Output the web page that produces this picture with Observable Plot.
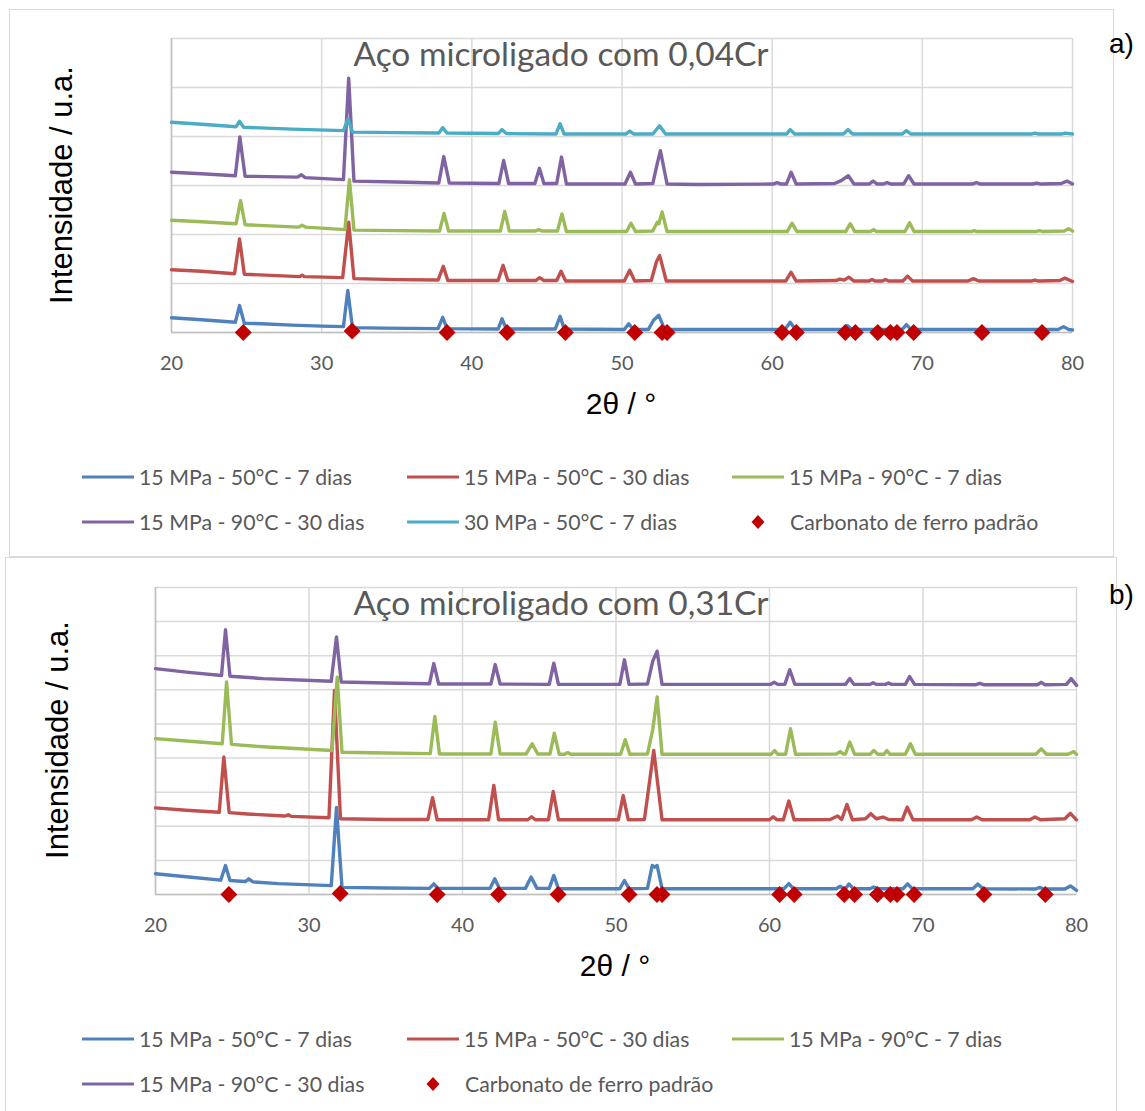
<!DOCTYPE html>
<html>
<head>
<meta charset="utf-8">
<script src="https://cdn.jsdelivr.net/npm/d3@7"></script>
<script src="https://cdn.jsdelivr.net/npm/@observablehq/plot@0.6"></script>
<style>
  html, body { margin: 0; padding: 0; background: #fff; }
  #page { position: relative; width: 1145px; height: 1111px; overflow: hidden; background: #fff; }
  .frame { position: absolute; border: 1px solid #D9D9D9; box-sizing: border-box; }
  .abs { position: absolute; white-space: nowrap; }
  .title { font-family: Lato, sans-serif; font-size: 33.5px; color: #595959; transform: translate(-50%, -50%); }
  .ylab { font-family: "Liberation Sans", Arial, sans-serif; font-size: 31px; color: #000; transform: translate(-50%, -50%) rotate(-90deg); }
  .xlab { font-family: "Liberation Sans", Arial, sans-serif; font-size: 30px; color: #000; transform: translate(-50%, -50%); }
  .tag { font-family: "Liberation Sans", Arial, sans-serif; font-size: 28px; color: #000; transform: translate(0, -50%); }
  .leg { font-family: Lato, sans-serif; font-size: 21.3px; color: #595959; transform: translate(0, -50%); }
  .legline { position: absolute; height: 3px; width: 52px; transform: translate(0, -50%); }
  .plotwrap { position: absolute; }
</style>
</head>
<body>
<div id="page"></div>
<script>
// ---------------- DATA ----------------
const xTicks = [20, 30, 40, 50, 60, 70, 80];
const gridA = [0, 1, 2, 3, 4, 5, 6];
const gridB = [0, 1, 2, 3, 4, 5, 6, 7, 8, 9];

const seriesNamesA = ["15 MPa - 50°C - 7 dias", "15 MPa - 50°C - 30 dias", "15 MPa - 90°C - 7 dias", "15 MPa - 90°C - 30 dias", "30 MPa - 50°C - 7 dias"];
const seriesNamesB = ["15 MPa - 50°C - 7 dias", "15 MPa - 50°C - 30 dias", "15 MPa - 90°C - 7 dias", "15 MPa - 90°C - 30 dias"];
const standardName = "Carbonato de ferro padrão";
const titleA = "Aço microligado com 0,04Cr";
const titleB = "Aço microligado com 0,31Cr";

// Carbonato de ferro padrão (2θ positions)
const standardTheta = [24.78, 32.03, 38.35, 42.35, 46.23, 50.85, 52.67, 53.0, 60.66, 61.61, 64.87, 65.54, 67.03, 67.87, 68.31, 69.42, 73.97, 77.97];
const standardI = [0, 0.03, 0, 0, 0, 0, 0, 0, 0, 0, 0, 0, 0, 0, 0, 0, 0, 0];

// Panel a) 0,04Cr  — [2θ, intensity (offset, a.u.)]
const a_15_50_7 = [[20,0.30],[22,0.26],[24.25,0.21],[24.53,0.55],[24.85,0.19],[26,0.18],[28,0.15],[30,0.13],[31.45,0.12],[31.74,0.86],[32.05,0.10],[34,0.09],[37.75,0.08],[38.06,0.31],[38.35,0.08],[41.75,0.07],[42.01,0.28],[42.3,0.07],[45.55,0.07],[45.88,0.33],[46.15,0.07],[50.15,0.06],[50.45,0.18],[50.75,0.06],[51.75,0.06],[52.1,0.25],[52.45,0.35],[52.85,0.06],[55,0.06],[60.85,0.06],[61.2,0.21],[61.55,0.06],[64.65,0.06],[65.0,0.14],[65.35,0.06],[68.65,0.06],[68.94,0.16],[69.25,0.06],[79.05,0.06],[79.4,0.12],[79.75,0.06],[80,0.05]];
const a_15_50_30 = [[20,1.28],[22,1.25],[24.2,1.20],[24.53,1.91],[24.85,1.19],[27,1.16],[28.55,1.14],[28.7,1.17],[28.85,1.14],[31.4,1.12],[31.8,2.25],[32.15,1.10],[35,1.08],[37.75,1.07],[38.1,1.35],[38.4,1.06],[41.75,1.06],[42.08,1.37],[42.4,1.06],[44.25,1.06],[44.52,1.12],[44.8,1.06],[45.65,1.06],[45.94,1.25],[46.25,1.05],[50.15,1.05],[50.51,1.27],[50.85,1.05],[51.95,1.06],[52.3,1.45],[52.51,1.57],[52.95,1.05],[55,1.05],[60.9,1.05],[61.26,1.23],[61.6,1.05],[64.25,1.06],[64.5,1.09],[64.8,1.07],[65.1,1.13],[65.45,1.05],[66.45,1.05],[66.65,1.08],[66.85,1.05],[67.35,1.05],[67.55,1.08],[67.75,1.05],[68.7,1.05],[69.02,1.15],[69.35,1.05],[73.05,1.05],[73.4,1.10],[73.75,1.05],[77.25,1.05],[77.5,1.07],[77.75,1.05],[79.15,1.06],[79.5,1.11],[80,1.04]];
const a_15_90_7 = [[20,2.29],[22,2.26],[24.3,2.22],[24.6,2.69],[24.9,2.20],[28.45,2.15],[28.7,2.19],[28.95,2.15],[31.55,2.10],[31.85,3.12],[32.15,2.09],[35,2.08],[37.85,2.07],[38.15,2.43],[38.45,2.07],[41.9,2.07],[42.19,2.47],[42.5,2.07],[44.2,2.07],[44.45,2.10],[44.7,2.07],[45.7,2.07],[46.0,2.42],[46.3,2.06],[50.3,2.06],[50.6,2.23],[50.9,2.06],[52.05,2.07],[52.35,2.25],[52.45,2.22],[52.67,2.46],[53.0,2.06],[55,2.06],[61.0,2.06],[61.32,2.23],[61.65,2.06],[64.9,2.06],[65.2,2.22],[65.5,2.06],[66.55,2.06],[66.76,2.10],[66.95,2.06],[68.85,2.06],[69.15,2.24],[69.45,2.06],[73.25,2.06],[73.45,2.08],[73.65,2.06],[77.55,2.06],[77.8,2.08],[78.05,2.06],[79.45,2.07],[79.75,2.12],[80,2.07]];
const a_15_90_30 = [[20,3.27],[22,3.24],[24.25,3.20],[24.55,3.99],[24.9,3.19],[28.4,3.17],[28.65,3.22],[28.9,3.16],[31.45,3.12],[31.8,5.19],[32.15,3.09],[35,3.07],[37.8,3.05],[38.13,3.59],[38.5,3.05],[41.8,3.04],[42.12,3.51],[42.45,3.04],[44.2,3.04],[44.5,3.35],[44.8,3.04],[45.65,3.04],[45.97,3.58],[46.3,3.03],[50.2,3.03],[50.56,3.27],[50.9,3.03],[52.05,3.04],[52.35,3.45],[52.56,3.71],[53.0,3.03],[55,3.02],[60.05,3.03],[60.33,3.06],[60.6,3.03],[60.95,3.03],[61.26,3.27],[61.6,3.03],[64.15,3.04],[64.6,3.10],[65.07,3.20],[65.45,3.03],[66.45,3.03],[66.72,3.09],[67.0,3.03],[67.4,3.03],[67.65,3.06],[67.9,3.03],[68.75,3.03],[69.09,3.20],[69.45,3.03],[73.3,3.03],[73.6,3.06],[73.9,3.03],[77.35,3.03],[77.63,3.05],[77.9,3.03],[79.25,3.04],[79.63,3.09],[80,3.03]];
const a_30_50_7 = [[20,4.29],[22,4.25],[24.3,4.20],[24.53,4.31],[24.8,4.19],[28,4.15],[31.45,4.12],[31.76,4.36],[32.05,4.09],[35,4.08],[37.8,4.07],[38.06,4.18],[38.35,4.07],[41.75,4.06],[42.0,4.14],[42.3,4.06],[45.6,4.05],[45.88,4.26],[46.15,4.05],[50.25,4.05],[50.51,4.11],[50.8,4.05],[52.05,4.05],[52.5,4.22],[52.9,4.05],[55,4.05],[60.95,4.05],[61.2,4.14],[61.5,4.05],[64.75,4.05],[65.05,4.14],[65.35,4.05],[68.65,4.05],[68.94,4.12],[69.25,4.05],[77.25,4.05],[77.5,4.07],[77.75,4.05],[79.25,4.05],[79.5,4.07],[80,4.05]];

// Panel b) 0,31Cr
const b_15_50_7 = [[20,0.61],[22,0.52],[24.25,0.42],[24.56,0.85],[24.85,0.41],[25.85,0.38],[26.08,0.46],[26.35,0.37],[28,0.32],[31.45,0.26],[31.79,2.55],[32.15,0.21],[35,0.19],[37.85,0.18],[38.13,0.31],[38.4,0.18],[41.8,0.18],[42.1,0.46],[42.4,0.18],[44.1,0.18],[44.47,0.51],[44.85,0.18],[45.65,0.18],[45.95,0.56],[46.25,0.17],[50.25,0.17],[50.55,0.41],[50.85,0.17],[52.05,0.18],[52.36,0.85],[52.52,0.80],[52.68,0.85],[53.0,0.17],[55,0.17],[60.95,0.17],[61.26,0.32],[61.55,0.17],[64.35,0.17],[64.6,0.24],[64.85,0.17],[64.95,0.17],[65.17,0.31],[65.45,0.17],[66.55,0.17],[66.79,0.22],[67.05,0.17],[68.7,0.17],[69.0,0.31],[69.3,0.17],[73.25,0.17],[73.57,0.31],[73.9,0.17],[77.35,0.16],[77.6,0.21],[77.85,0.16],[79.25,0.16],[79.6,0.25],[80,0.12]];
const b_15_50_30 = [[20,2.54],[22,2.47],[24.15,2.41],[24.45,4.03],[24.8,2.40],[26,2.36],[28.45,2.30],[28.65,2.34],[28.85,2.29],[31.3,2.25],[31.66,5.98],[32.05,2.22],[35,2.20],[37.75,2.20],[38.05,2.84],[38.35,2.19],[41.7,2.19],[42.04,3.20],[42.35,2.19],[44.25,2.19],[44.5,2.28],[44.75,2.19],[45.6,2.19],[45.91,3.02],[46.25,2.19],[50.15,2.19],[50.47,2.90],[50.8,2.19],[51.85,2.20],[52.46,4.22],[53.0,2.19],[55,2.19],[60.0,2.19],[60.24,2.28],[60.5,2.19],[60.9,2.19],[61.26,2.74],[61.6,2.19],[63.95,2.20],[64.44,2.30],[64.7,2.20],[65.05,2.64],[65.4,2.19],[66.25,2.22],[66.6,2.37],[66.95,2.22],[67.4,2.27],[67.75,2.20],[68.65,2.19],[68.97,2.56],[69.35,2.19],[73.15,2.19],[73.5,2.27],[73.85,2.19],[76.95,2.19],[77.3,2.27],[77.65,2.19],[79.25,2.22],[79.6,2.38],[80,2.19]];
const b_15_90_7 = [[20,4.57],[22,4.50],[24.35,4.42],[24.63,6.23],[24.95,4.40],[27,4.33],[31.5,4.22],[31.84,6.37],[32.15,4.17],[35,4.15],[37.9,4.13],[38.2,5.22],[38.5,4.12],[41.85,4.12],[42.13,5.05],[42.45,4.12],[44.15,4.12],[44.54,4.42],[44.9,4.12],[45.7,4.12],[45.98,4.73],[46.3,4.11],[46.65,4.11],[46.85,4.16],[47.05,4.11],[50.3,4.11],[50.6,4.54],[50.9,4.11],[52.05,4.12],[52.4,4.85],[52.68,5.79],[53.0,4.11],[55,4.11],[60.1,4.11],[60.33,4.22],[60.55,4.11],[61.05,4.11],[61.37,4.86],[61.7,4.11],[64.35,4.12],[64.6,4.19],[64.8,4.12],[64.95,4.12],[65.23,4.47],[65.55,4.11],[66.55,4.11],[66.79,4.22],[67.05,4.11],[67.45,4.11],[67.65,4.22],[67.85,4.11],[68.85,4.11],[69.18,4.42],[69.5,4.11],[77.35,4.11],[77.7,4.27],[78.05,4.11],[79.45,4.11],[79.83,4.19],[80,4.11]];
const b_15_90_30 = [[20,6.62],[22,6.52],[24.3,6.42],[24.56,7.76],[24.85,6.40],[27,6.33],[31.45,6.25],[31.79,7.55],[32.1,6.23],[35,6.20],[37.85,6.18],[38.13,6.77],[38.45,6.17],[41.85,6.17],[42.13,6.74],[42.45,6.17],[45.65,6.16],[45.95,6.78],[46.25,6.16],[50.25,6.16],[50.55,6.88],[50.85,6.16],[52.05,6.17],[52.4,6.85],[52.68,7.13],[53.0,6.16],[55,6.16],[60.05,6.16],[60.3,6.22],[60.55,6.16],[61.0,6.16],[61.32,6.59],[61.65,6.16],[64.95,6.16],[65.23,6.33],[65.5,6.16],[66.55,6.16],[66.75,6.21],[66.95,6.16],[67.55,6.16],[67.75,6.20],[67.95,6.16],[68.85,6.16],[69.13,6.39],[69.45,6.16],[73.45,6.15],[73.7,6.19],[73.95,6.15],[77.45,6.15],[77.7,6.22],[77.95,6.15],[79.35,6.16],[79.65,6.33],[80,6.13]];

const colors = ["#4F81BD", "#C0504D", "#9BBB59", "#8064A2", "#4BACC6"];
const standardColor = "#C00000";

// ---------------- DRAW ----------------
const page = document.getElementById("page");
function add(cls, text, x, y, extra) {
  const d = document.createElement("div");
  d.className = "abs " + cls;
  d.textContent = text;
  d.style.left = x + "px";
  d.style.top = y + "px";
  if (extra) Object.assign(d.style, extra);
  page.appendChild(d);
  return d;
}
function frame(x, y, w, h) {
  const d = document.createElement("div");
  d.className = "frame";
  Object.assign(d.style, {left: x + "px", top: y + "px", width: w + "px", height: h + "px"});
  page.appendChild(d);
}

function panel(opts) {
  const rows = [];
  opts.series.forEach((s, i) => s.forEach(([x, y]) => rows.push({name: opts.names[i], idx: i, x, y})));
  const std = standardTheta.map((t, i) => ({x: t, y: standardI[i]}));
  const chart = Plot.plot({
    width: 1145,
    height: opts.height,
    marginTop: opts.mt, marginBottom: opts.mb, marginLeft: opts.ml, marginRight: opts.mr,
    style: {fontFamily: "Lato, sans-serif", fontSize: "20px", color: "#595959", background: "transparent", overflow: "visible"},
    x: {domain: [20, 80], ticks: xTicks, tickSize: 0, tickPadding: 23, label: null, tickFormat: d => String(d)},
    y: {domain: [0, opts.grid[opts.grid.length - 1]], axis: null},
    color: {domain: opts.names, range: colors.slice(0, opts.names.length)},
    marks: [
      Plot.ruleY(opts.grid, {stroke: "#D9D9D9", strokeWidth: 1.5}),
      Plot.ruleX(xTicks, {stroke: "#D9D9D9", strokeWidth: 1.5}),
      Plot.ruleX([20], {stroke: "#BFBFBF", strokeWidth: 1.5}),
      Plot.ruleY([0], {stroke: "#BFBFBF", strokeWidth: 1.5}),
      Plot.line(rows, {x: "x", y: "y", z: "name", stroke: "name", strokeWidth: 3.4, strokeLinejoin: "round", strokeLinecap: "round"}),
      Plot.dot(std, {x: "x", y: "y", symbol: "diamond2", r: 7.6, fill: standardColor, stroke: "none"})
    ]
  });
  const wrap = document.createElement("div");
  wrap.className = "plotwrap";
  wrap.style.left = "0px";
  wrap.style.top = opts.top + "px";
  wrap.appendChild(chart);
  page.appendChild(wrap);
}

// Frames
frame(9, 9, 1105, 548);
frame(5, 557, 1112, 570);

// Panel a
panel({series: [a_15_50_7, a_15_50_30, a_15_90_7, a_15_90_30, a_30_50_7], names: seriesNamesA, grid: gridA,
       top: 0, height: 390, mt: 38, mb: 58, ml: 171, mr: 73});
// Panel b
panel({series: [b_15_50_7, b_15_50_30, b_15_90_7, b_15_90_30], names: seriesNamesB, grid: gridB,
       top: 550, height: 400, mt: 37, mb: 56, ml: 155, mr: 69});

// Titles & labels
add("title", titleA, 561, 53);
add("title", titleB, 561, 602);
add("ylab", "Intensidade / u.a.", 62, 185);
add("ylab", "Intensidade / u.a.", 58, 740);
add("xlab", "2θ / °", 621, 404);
add("xlab", "2θ / °", 615, 966);
add("tag", "a)", 1109, 44);
add("tag", "b)", 1109, 595);

// Legends
function legendLine(color, name, x, y) {
  const l = document.createElement("div");
  l.className = "legline";
  Object.assign(l.style, {left: x + "px", top: y + "px", background: color});
  page.appendChild(l);
  add("leg", name, x + 57, y);
}
function legendDiamond(name, x, y, tx) {
  const ns = "http://www.w3.org/2000/svg";
  const s = document.createElementNS(ns, "svg");
  s.setAttribute("width", 16); s.setAttribute("height", 16);
  s.style.position = "absolute"; s.style.left = (x - 8) + "px"; s.style.top = (y - 8) + "px";
  const p = document.createElementNS(ns, "path");
  p.setAttribute("d", "M8,1L14.5,8L8,15L1.5,8Z");
  p.setAttribute("fill", standardColor);
  s.appendChild(p);
  page.appendChild(s);
  add("leg", name, tx, y);
}
const legX = [82, 407, 732];
// a)
legendLine(colors[0], seriesNamesA[0], legX[0], 477);
legendLine(colors[1], seriesNamesA[1], legX[1], 477);
legendLine(colors[2], seriesNamesA[2], legX[2], 477);
legendLine(colors[3], seriesNamesA[3], legX[0], 522);
legendLine(colors[4], seriesNamesA[4], legX[1], 522);
legendDiamond(standardName, 758, 522, 790);
// b)
legendLine(colors[0], seriesNamesB[0], legX[0], 1039);
legendLine(colors[1], seriesNamesB[1], legX[1], 1039);
legendLine(colors[2], seriesNamesB[2], legX[2], 1039);
legendLine(colors[3], seriesNamesB[3], legX[0], 1084);
legendDiamond(standardName, 433, 1084, 465);
</script>
</body>
</html>
